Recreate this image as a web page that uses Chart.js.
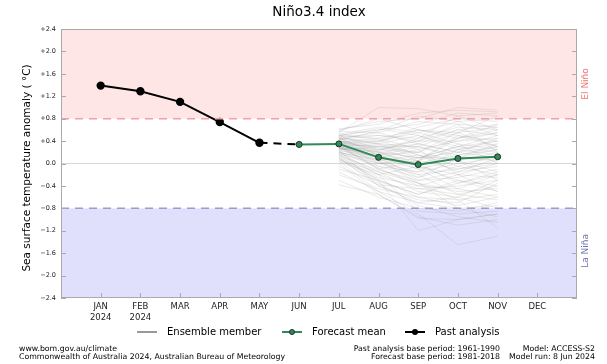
<!DOCTYPE html>
<html lang="en">
<head>
<meta charset="UTF-8">
<title>Niño3.4 index</title>
<script src="https://cdn.jsdelivr.net/npm/chart.js"></script>
<style>
  html, body { margin: 0; padding: 0; background: #fff; }
  #wrap { width: 607px; height: 364px; position: relative; }
</style>
</head>
<body>
<div id="wrap"><canvas id="nino"></canvas></div>
<script>
// month axis
const months = ['JAN', 'FEB', 'MAR', 'APR', 'MAY', 'JUN', 'JUL', 'AUG', 'SEP', 'OCT', 'NOV', 'DEC'];
const yearLabel = '2024';
const yTicks = [-2.4, -2.0, -1.6, -1.2, -0.8, -0.4, 0, 0.4, 0.8, 1.2, 1.6, 2.0, 2.4];

// past analysis (observed)
const pastMonths = ['JAN', 'FEB', 'MAR', 'APR', 'MAY'];
const pastValues = [1.39, 1.29, 1.10, 0.74, 0.37];

// forecast mean
const meanMonths = ['JUN', 'JUL', 'AUG', 'SEP', 'OCT', 'NOV'];
const meanValues = [0.34, 0.35, 0.11, -0.02, 0.09, 0.12];

// ensemble members, JUL..NOV
const ensMonths = ['JUL', 'AUG', 'SEP', 'OCT', 'NOV'];
const ensemble = [
  [0.55, 1.00, 0.98, 0.85, 0.90],
  [0.60, 0.75, 0.80, 1.00, 0.95],
  [0.50, 0.60, 0.70, 0.90, 0.85],
  [0.45, 0.40, 0.55, 0.75, 0.80],
  [0.40, 0.30, 0.20, 0.45, 0.60],
  [0.35, 0.20, 0.10, 0.30, 0.40],
  [0.30, 0.10, -0.10, 0.05, 0.20],
  [0.25, 0.00, -0.20, -0.10, 0.00],
  [0.20, -0.20, -0.45, -0.40, -0.30],
  [0.10, -0.40, -0.70, -0.80, -0.75],
  [0.00, -0.55, -0.95, -1.10, -1.00],
  [0.15, -0.30, -1.20, -1.00, -0.90],
  [0.05, -0.50, -0.90, -1.45, -1.30],
  [-0.20, -0.45, -0.60, -0.65, -0.55],
  [-0.30, -0.60, -0.80, -0.85, -0.70],
  [0.45, 0.55, 0.35, 0.20, 0.30],
  [0.50, 0.45, 0.60, 0.50, 0.40],
  [0.40, 0.25, 0.40, 0.60, 0.70],
  [0.35, 0.35, 0.15, -0.05, -0.20],
  [0.30, 0.15, 0.05, 0.25, 0.15],
  [0.25, 0.30, 0.30, 0.10, 0.05],
  [0.38, 0.05, -0.30, -0.25, -0.10],
  [0.42, 0.20, 0.00, 0.15, 0.30],
  [0.33, -0.10, -0.35, -0.50, -0.45],
  [0.28, 0.10, 0.25, 0.40, 0.55],
  [0.48, 0.50, 0.45, 0.65, 0.60],
  [0.22, -0.05, -0.15, 0.00, 0.10],
  [0.18, -0.15, -0.50, -0.60, -0.80],
  [0.12, -0.25, -0.40, -0.20, -0.25],
  [0.52, 0.65, 0.55, 0.35, 0.25],
  [0.36, 0.40, 0.65, 0.80, 0.75],
  [0.32, 0.00, 0.10, 0.20, 0.45],
  [0.26, 0.20, -0.05, -0.30, -0.40],
  [0.44, 0.35, 0.50, 0.30, 0.50],
  [0.08, -0.35, -0.75, -0.95, -1.05],
  [0.30, 0.25, 0.20, 0.55, 0.65],
  [0.40, 0.10, -0.25, 0.10, 0.35],
  [0.20, 0.05, 0.15, -0.15, -0.05],
  [-0.10, -0.30, -0.55, -0.35, -0.15],
  [0.46, 0.15, -0.10, -0.45, -0.60],
  [0.34, 0.30, 0.40, 0.70, 0.20],
  [0.58, 0.80, 0.60, 0.45, 0.70],
  [0.24, -0.40, -0.65, -0.70, -0.35],
  [0.16, -0.20, -0.05, 0.35, 0.00],
  [0.38, 0.45, 0.25, -0.20, -0.50],
  [0.27, 0.05, -0.35, -0.80, -0.95],
  [0.50, 0.25, 0.35, 0.20, 0.10],
  [0.30, -0.10, 0.05, 0.50, 0.30],
  [0.62, 0.70, 0.90, 0.95, 0.92],
  [0.57, 0.55, 0.75, 0.70, 0.65],
  [0.47, 0.35, 0.30, 0.55, 0.85],
  [0.43, 0.50, 0.40, 0.40, 0.45],
  [0.41, 0.15, 0.30, 0.15, 0.25],
  [0.37, 0.28, 0.05, -0.10, 0.05],
  [0.33, 0.18, 0.35, 0.60, 0.50],
  [0.29, -0.05, -0.25, -0.05, 0.15],
  [0.23, 0.12, 0.00, -0.35, -0.20],
  [0.19, 0.08, -0.20, -0.55, -0.65],
  [0.14, -0.12, -0.30, -0.15, 0.10],
  [0.09, -0.28, -0.60, -0.75, -0.60],
  [0.03, -0.20, -0.85, -0.90, -0.85],
  [-0.05, -0.38, -0.45, -0.55, -0.40],
  [-0.15, -0.50, -0.70, -0.60, -0.30],
  [-0.38, -0.55, -0.98, -1.00, -0.90],
  [0.53, 0.42, 0.15, 0.05, -0.15],
  [0.49, 0.62, 0.50, 0.25, 0.35],
  [0.44, 0.22, 0.45, 0.85, 0.60],
  [0.39, 0.38, 0.60, 0.55, 0.30],
  [0.35, 0.02, -0.15, 0.25, 0.40],
  [0.31, 0.33, 0.10, 0.30, 0.20],
  [0.27, 0.15, 0.20, 0.05, -0.30],
  [0.21, -0.08, -0.40, -0.45, -0.20],
  [0.17, 0.00, 0.05, 0.45, 0.55],
  [0.11, -0.32, -0.55, -0.30, -0.50],
  [0.06, -0.15, -0.35, -0.65, -1.15],
  [0.42, 0.58, 0.85, 0.75, 0.50],
  [0.36, 0.12, -0.05, -0.20, 0.00],
  [0.28, 0.22, 0.10, 0.10, 0.25]
];

const elNino = 0.8, laNina = -0.8;

const pts = (ms, vs) => ms.map((m, i) => ({ x: months.indexOf(m), y: vs[i] }));
const fmtY = v => v > 0 ? '+' + v.toFixed(1) : v < 0 ? '\u2212' + Math.abs(v).toFixed(1) : '0.0';

const datasets = ensemble.map(vals => ({
  data: pts(ensMonths, vals),
  borderColor: 'rgba(150,150,150,0.2)',
  borderWidth: 1,
  pointRadius: 0,
  order: 10
}));
datasets.push({
  data: [pts(pastMonths, pastValues).pop(), pts(meanMonths, meanValues)[0]],
  borderColor: '#000',
  borderWidth: 2,
  borderDash: [8, 6],
  pointRadius: 0,
  order: 2
});
datasets.push({
  data: pts(pastMonths, pastValues),
  borderColor: '#000',
  borderWidth: 2,
  pointRadius: 3.2,
  pointBackgroundColor: '#000',
  pointBorderColor: '#000',
  order: 1
});
datasets.push({
  data: pts(meanMonths, meanValues),
  borderColor: '#2e8b57',
  borderWidth: 2,
  pointRadius: 3,
  pointBackgroundColor: '#2e8b57',
  pointBorderColor: '#1f2f25',
  pointBorderWidth: 1,
  order: 0
});

const FONT = "'DejaVu Sans', sans-serif";

const decor = {
  id: 'decor',
  beforeDatasetsDraw(chart) {
    const { ctx, chartArea: a, scales: { y } } = chart;
    const yN = y.getPixelForValue(elNino), yL = y.getPixelForValue(laNina), y0 = y.getPixelForValue(0);
    ctx.save();
    ctx.fillStyle = '#ffe6e6';
    ctx.fillRect(a.left, a.top, a.right - a.left, yN - a.top);
    ctx.fillStyle = '#e0e0fd';
    ctx.fillRect(a.left, yL, a.right - a.left, a.bottom - yL);
    ctx.strokeStyle = '#d8d8d8';
    ctx.lineWidth = 1;
    ctx.beginPath(); ctx.moveTo(a.left, y0); ctx.lineTo(a.right, y0); ctx.stroke();
    ctx.restore();
  },
  afterDatasetsDraw(chart) {
    const { ctx, chartArea: a, scales: { x, y } } = chart;
    const yN = y.getPixelForValue(elNino), yL = y.getPixelForValue(laNina);
    ctx.save();
    ctx.lineWidth = 1.5;
    ctx.setLineDash([8, 6]);
    ctx.strokeStyle = '#f2a0a0';
    ctx.beginPath(); ctx.moveTo(a.left, yN); ctx.lineTo(a.right, yN); ctx.stroke();
    ctx.strokeStyle = '#9c9cd0';
    ctx.beginPath(); ctx.moveTo(a.left, yL); ctx.lineTo(a.right, yL); ctx.stroke();
    ctx.setLineDash([]);
    // frame + inward ticks
    ctx.strokeStyle = '#aaa';
    ctx.lineWidth = 1;
    ctx.strokeRect(a.left + 0.5, a.top + 0.5, a.right - a.left - 1, a.bottom - a.top - 1);
    ctx.beginPath();
    yTicks.forEach(v => {
      const p = Math.round(y.getPixelForValue(v)) + 0.5;
      ctx.moveTo(a.left, p); ctx.lineTo(a.left + 5, p);
      ctx.moveTo(a.right, p); ctx.lineTo(a.right - 5, p);
    });
    months.forEach((m, i) => {
      const p = Math.round(x.getPixelForValue(i)) + 0.5;
      ctx.moveTo(p, a.bottom); ctx.lineTo(p, a.bottom - 5);
    });
    ctx.stroke();
    ctx.restore();
  },
  afterDraw(chart) {
    const { ctx, chartArea: a, scales: { y } } = chart;
    ctx.save();
    ctx.fillStyle = '#000';
    ctx.textAlign = 'center';
    ctx.textBaseline = 'alphabetic';
    ctx.font = '13.5px ' + FONT;
    ctx.fillText('Niño3.4 index', (a.left + a.right) / 2, 16);

    // y title
    ctx.save();
    ctx.translate(27, 168);
    ctx.rotate(-Math.PI / 2);
    ctx.textBaseline = 'middle';
    ctx.font = '10.5px ' + FONT;
    ctx.fillText('Sea surface temperature anomaly ( \u00B0C)', 0, 0);
    ctx.restore();

    // band labels
    ctx.font = '9px ' + FONT;
    ctx.textBaseline = 'middle';
    [['El Niño', '#ee7070', 1.42], ['La Niña', '#6e6eb0', -1.56]].forEach(([t, c, v]) => {
      ctx.save();
      ctx.translate(a.right + 9, y.getPixelForValue(v));
      ctx.rotate(-Math.PI / 2);
      ctx.fillStyle = c;
      ctx.fillText(t, 0, 0);
      ctx.restore();
    });

    // legend
    const ly = 332;
    ctx.font = '10px ' + FONT;
    ctx.textAlign = 'left';
    ctx.lineWidth = 2;
    ctx.strokeStyle = '#999';
    ctx.beginPath(); ctx.moveTo(137, ly); ctx.lineTo(157, ly); ctx.stroke();
    ctx.fillStyle = '#000';
    ctx.fillText('Ensemble member', 167, ly);
    ctx.strokeStyle = '#2e8b57';
    ctx.beginPath(); ctx.moveTo(282, ly); ctx.lineTo(302, ly); ctx.stroke();
    ctx.beginPath(); ctx.arc(292, ly, 2.5, 0, Math.PI * 2);
    ctx.fillStyle = '#2e8b57'; ctx.fill();
    ctx.lineWidth = 1; ctx.strokeStyle = '#1f2f25'; ctx.stroke();
    ctx.fillStyle = '#000';
    ctx.fillText('Forecast mean', 312, ly);
    ctx.lineWidth = 2; ctx.strokeStyle = '#000';
    ctx.beginPath(); ctx.moveTo(405, ly); ctx.lineTo(425, ly); ctx.stroke();
    ctx.beginPath(); ctx.arc(415, ly, 3, 0, Math.PI * 2); ctx.fill();
    ctx.fillText('Past analysis', 435, ly);

    // footer
    ctx.font = '7.8px ' + FONT;
    ctx.textBaseline = 'alphabetic';
    ctx.fillText('www.bom.gov.au/climate', 19, 351);
    ctx.fillText('Commonwealth of Australia 2024, Australian Bureau of Meteorology', 19, 359);
    ctx.textAlign = 'right';
    ctx.fillText('Past analysis base period: 1961-1990', 500, 351);
    ctx.fillText('Forecast base period: 1981-2018', 500, 359);
    ctx.fillText('Model: ACCESS-S2', 595, 351);
    ctx.fillText('Model run: 8 Jun 2024', 595, 359);
    ctx.restore();
  }
};

new Chart(document.getElementById('nino'), {
  type: 'line',
  data: { datasets },
  options: {
    responsive: true,
    maintainAspectRatio: false,
    animation: false,
    layout: { padding: { left: 0, top: 29, right: 30, bottom: 36 } },
    plugins: { legend: { display: false }, tooltip: { enabled: false } },
    elements: { line: { tension: 0 } },
    scales: {
      x: {
        type: 'linear',
        min: -1,
        max: 12,
        afterBuildTicks: s => { s.ticks = months.map((m, i) => ({ value: i })); },
        afterFit: s => { s.height = 30; },
        grid: { display: false, drawTicks: false },
        border: { display: false },
        ticks: {
          autoSkip: false,
          maxRotation: 0,
          padding: 4,
          color: '#222',
          font: { family: FONT, size: 8.5 },
          callback: v => v <= 1 ? [months[v], yearLabel] : months[v]
        }
      },
      y: {
        min: -2.4,
        max: 2.4,
        afterBuildTicks: s => { s.ticks = yTicks.map(v => ({ value: v })); },
        afterFit: s => { s.width = 61; },
        grid: { display: false, drawTicks: false },
        border: { display: false },
        ticks: {
          padding: 5,
          color: '#222',
          font: { family: FONT, size: 6.5 },
          callback: v => fmtY(v)
        }
      }
    }
  },
  plugins: [decor]
});
</script>
</body>
</html>
